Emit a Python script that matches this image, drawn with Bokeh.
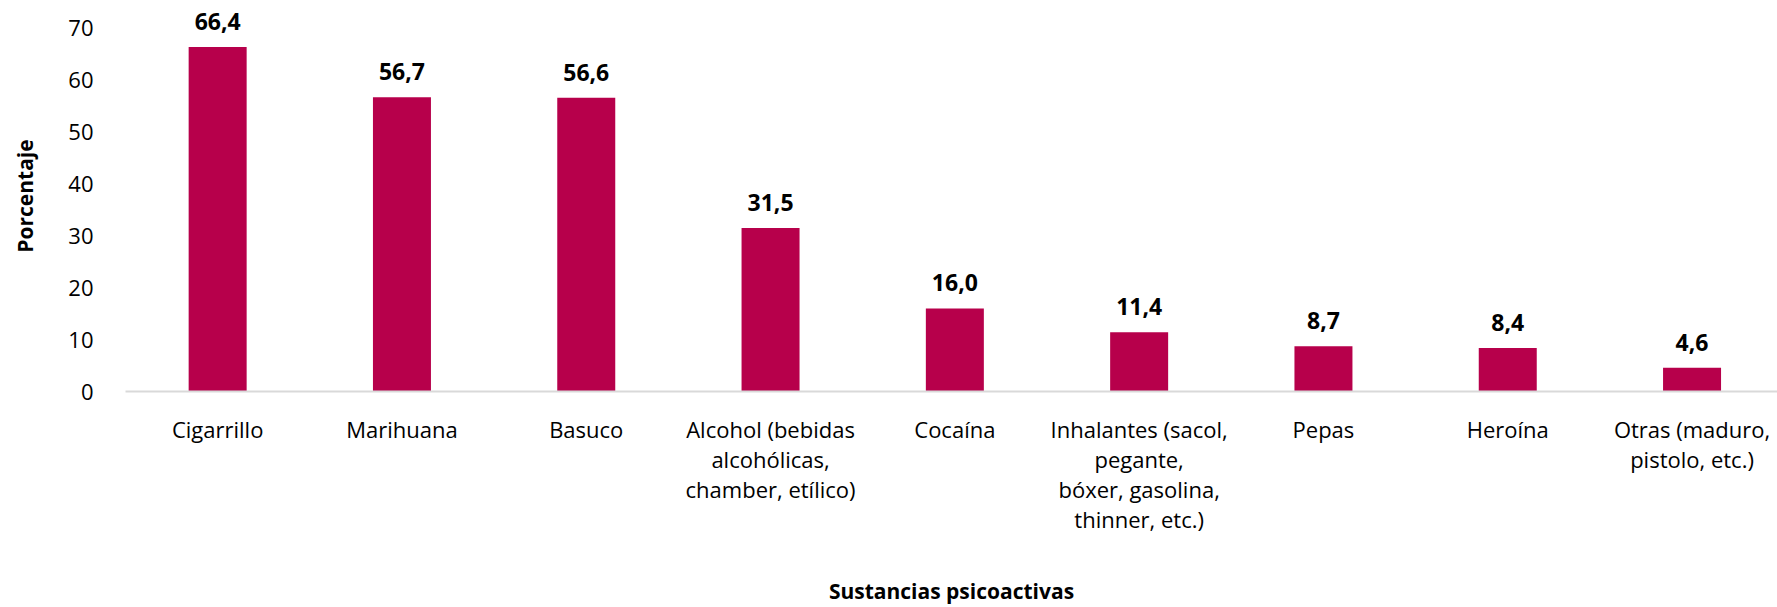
from bokeh.plotting import figure
from bokeh.models import ColumnDataSource, Range1d, FixedTicker, LabelSet
from bokeh.core.properties import value
from bokeh.embed import file_html
from bokeh.resources import INLINE

categories = [
    "Cigarrillo",
    "Marihuana",
    "Basuco",
    "Alcohol (bebidas\nalcohólicas,\nchamber, etílico)",
    "Cocaína",
    "Inhalantes (sacol,\npegante,\nbóxer, gasolina,\nthinner, etc.)",
    "Pepas",
    "Heroína",
    "Otras (maduro,\npistolo, etc.)",
]
values = [66.4, 56.7, 56.6, 31.5, 16.0, 11.4, 8.7, 8.4, 4.6]
y_ticks = [0, 10, 20, 30, 40, 50, 60, 70]

FONT = "Open Sans"
BAR = "#B7004B"

positions = list(range(len(categories)))
labels = [f"{v:.1f}".replace(".", ",") for v in values]
source = ColumnDataSource(dict(x=positions, top=values, label=labels))

W, H = 1777, 607
LEFT, BOTTOM = 125, 214
PX_PER_UNIT = 365 / 70.0
p = figure(
    width=W, height=H,
    output_backend="svg", toolbar_location=None,
    x_range=Range1d(-0.5, -0.5 + (W - LEFT) / 184.3),
    y_range=Range1d(0, 70 + 28 / PX_PER_UNIT),
    min_border_left=LEFT, min_border_right=0,
    min_border_top=0, min_border_bottom=BOTTOM,
)
p.outline_line_color = None
p.background_fill_color = "white"
p.border_fill_color = "white"
p.grid.visible = False

p.vbar(x="x", top="top", bottom=0, width=58 / 184.3, source=source,
       fill_color=BAR, line_color=None)

p.add_layout(LabelSet(x="x", y="top", text="label", source=source,
                      y_offset=17, text_align="center", text_baseline="alphabetic",
                      text_font=value(FONT), text_font_style="bold",
                      text_font_size="23px", text_color="#000000"))

# y axis
ya = p.yaxis[0]
ya.ticker = FixedTicker(ticks=y_ticks)
ya.axis_line_color = None
ya.major_tick_line_color = None
ya.minor_tick_line_color = None
ya.major_label_standoff = 26
ya.major_label_text_font = FONT
ya.major_label_text_font_size = "22px"
ya.major_label_text_color = "#000000"
ya.axis_label = "Porcentaje"
ya.axis_label_text_font = FONT
ya.axis_label_text_font_style = "bold"
ya.axis_label_text_font_size = "21px"
ya.axis_label_text_color = "#000000"
ya.axis_label_standoff = 26

# x axis
xa = p.xaxis[0]
xa.ticker = FixedTicker(ticks=positions)
xa.major_label_overrides = {i: c for i, c in zip(positions, categories)}
xa.axis_line_color = "#D9D9D9"
xa.axis_line_width = 2
xa.major_tick_line_color = None
xa.minor_tick_line_color = None
xa.major_label_standoff = 16
xa.major_label_orientation = "horizontal"
xa.major_label_text_font = FONT
xa.major_label_text_font_size = "22px"
xa.major_label_text_line_height = 1.0
xa.major_label_text_color = "#000000"
xa.axis_label = "Sustancias psicoactivas"
xa.axis_label_text_font = FONT
xa.axis_label_text_font_style = "bold"
xa.axis_label_text_font_size = "21px"
xa.axis_label_text_line_height = 0.6
xa.axis_label_text_color = "#000000"
xa.axis_label_standoff = 40

open("out.html", "w").write(file_html(p, INLINE))
